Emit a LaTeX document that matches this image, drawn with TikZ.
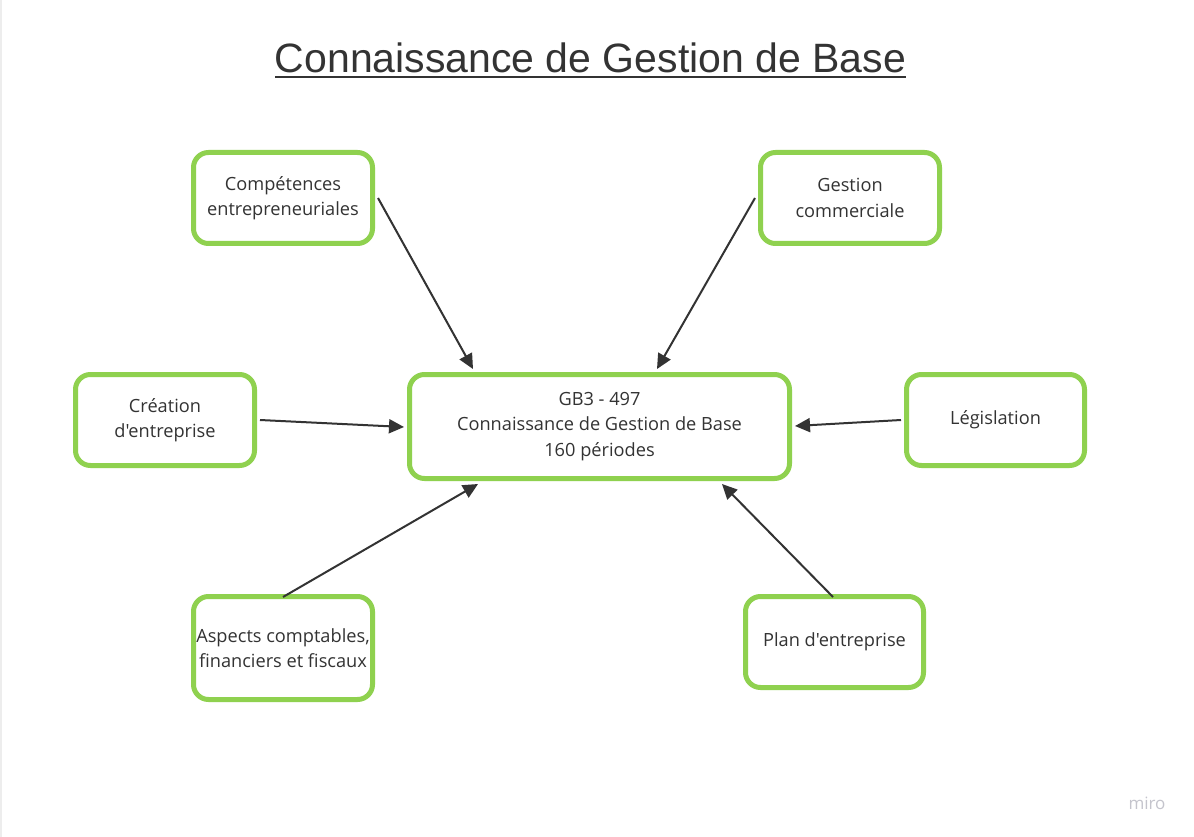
\documentclass[tikz,border=0pt]{standalone}
\usepackage{fontspec}
\setmainfont{Open Sans}[Ligatures=TeXOff]
\newfontfamily\titlefont{Liberation Sans}
\usetikzlibrary{arrows.meta}
\definecolor{boxgreen}{HTML}{8FD14F}
\definecolor{txt}{HTML}{333333}
\definecolor{arr}{HTML}{333333}
\definecolor{mirogray}{HTML}{C4C4CC}
\begin{document}
\begin{tikzpicture}[x=1pt,y=-1pt,
  box/.style={draw=boxgreen,line width=5pt,rounded corners=15pt,fill=white,
    align=center,text=txt,font=\fontsize{18.2}{25.5}\selectfont,inner sep=0pt},
  conn/.style={draw=arr,line width=2pt,-{Triangle[length=15pt,width=14pt]}}]
\useasboundingbox (0,0) rectangle (1194,837);
\fill[white] (0,0) rectangle (1194,837);
\draw[color=black!7,line width=2pt] (1,0) -- (1,837);
\node[anchor=base,text=txt,font=\titlefont\fontsize{41}{48}\selectfont] (title) at (590.5,73) {Connaissance de Gestion de Base};
\draw[txt,line width=2.5pt] (275,77) -- (906,77);
\node[box,minimum width=179pt,minimum height=91pt] (comp) at (283,198) {Compétences\\entrepreneuriales};
\node[box,minimum width=179pt,minimum height=91pt] (gest) at (850,198) {Gestion\\commerciale};
\node[box,minimum width=179pt,minimum height=91pt] (crea) at (165,420) {Création\\d'entreprise};
\node[box,minimum width=380pt,minimum height=104pt] (central) at (599.5,426.5) {GB3 - 497\\Connaissance de Gestion de Base\\160 périodes};
\node[box,minimum width=178pt,minimum height=91pt] (leg) at (995.5,420) {Législation};
\node[box,minimum width=179pt,minimum height=103pt] (asp) at (283,648) {Aspects comptables,\\financiers et fiscaux};
\node[box,minimum width=178pt,minimum height=91pt] (plan) at (834.5,642) {Plan d'entreprise};
\node[text=mirogray,font=\fontsize{17}{18}\selectfont] (miro) at (1147,803) {miro};
\coordinate (e1) at (473,369);
\coordinate (e2) at (657,369);
\coordinate (e3) at (404,427);
\coordinate (e4) at (795,426);
\coordinate (e5) at (478,484);
\coordinate (e6) at (722,484);
\draw[conn] ([xshift=3pt]comp.east) -- (e1);
\draw[conn] ([xshift=-3pt]gest.west) -- (e2);
\draw[conn] ([xshift=3pt]crea.east) -- (e3);
\draw[conn] ([xshift=-3pt]leg.west) -- (e4);
\draw[conn] ([yshift=-3pt]asp.north) -- (e5);
\draw[conn] ([yshift=-3pt,xshift=-1.5pt]plan.north) -- (e6);
\end{tikzpicture}
\end{document}
